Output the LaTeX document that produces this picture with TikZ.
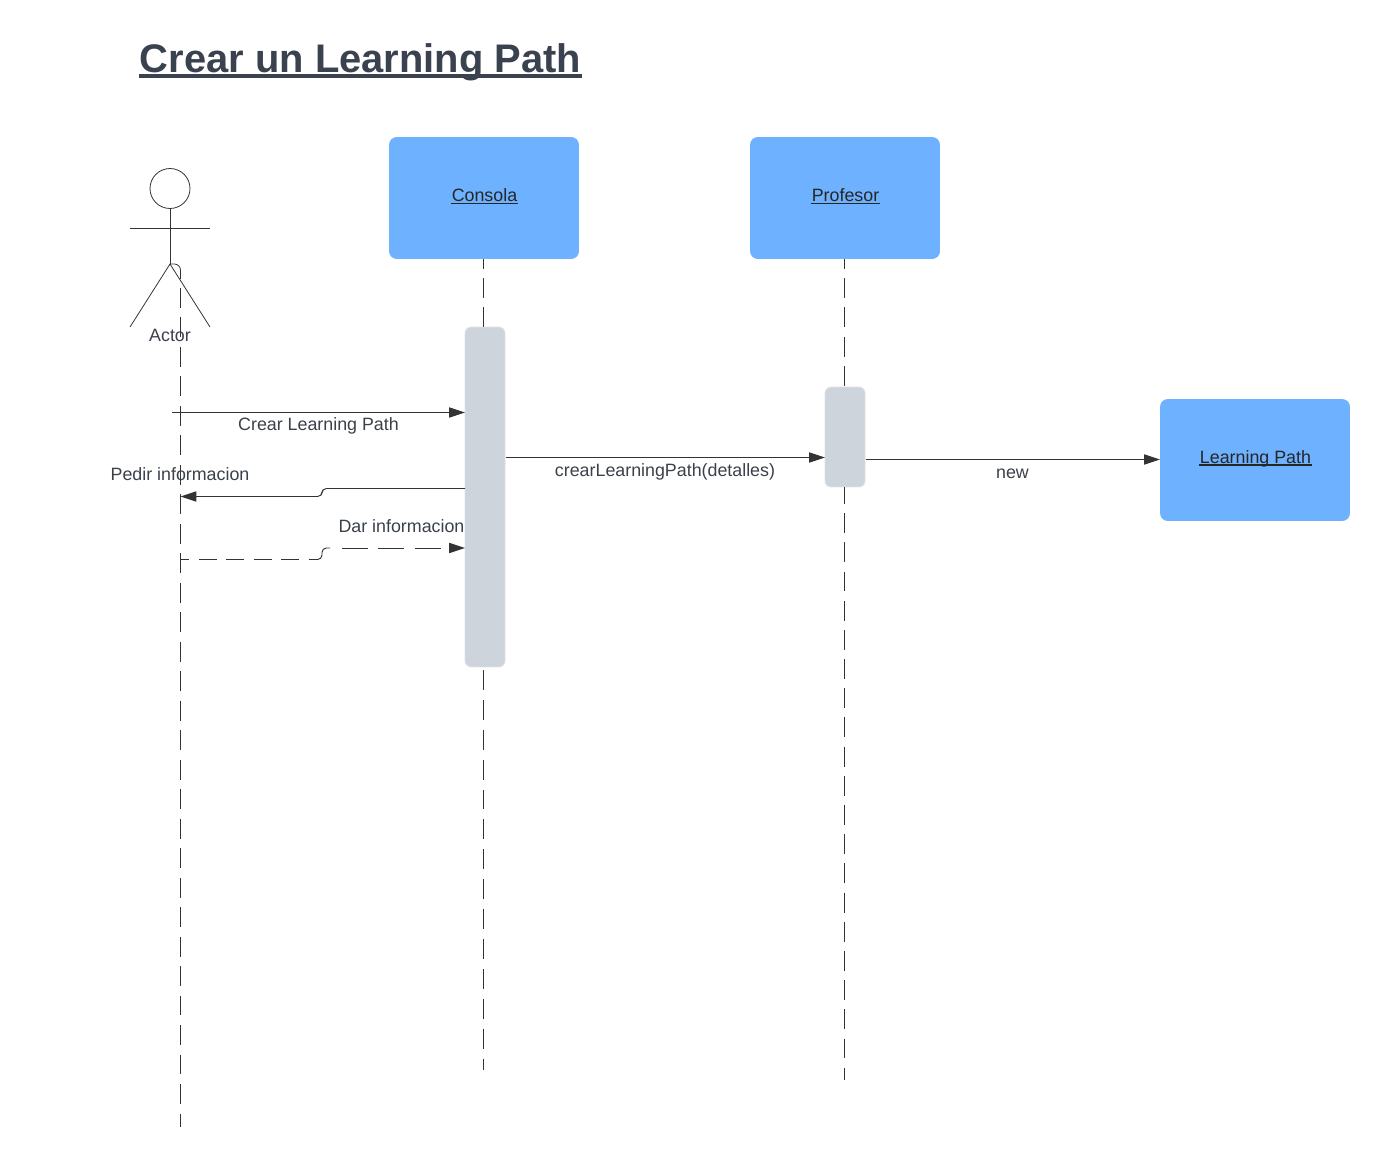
\documentclass[tikz,border=0pt]{standalone}
\usepackage{fontspec}
\setmainfont{Liberation Sans}
\usetikzlibrary{arrows.meta}
\definecolor{boxblue}{RGB}{109, 177, 255}
\definecolor{bargray}{RGB}{206, 212, 219}
\definecolor{barline}{RGB}{222, 226, 231}
\definecolor{inkgray}{RGB}{51, 51, 51}
\definecolor{labelgray}{RGB}{58, 65, 74}
\definecolor{titlegray}{RGB}{58, 65, 79}
\newcommand{\ulined}[3]{\setbox0=\hbox{\kern0.6pt#3\kern0.6pt}\dp0=0pt\vtop{\box0\kern#2\hrule height #1}}

\begin{document}
\begin{tikzpicture}[x=0.02cm, y=-0.02cm,
    every node/.style={font=\fontsize{10.15}{12}\selectfont, text=labelgray},
    lane/.style={rectangle, fill=boxblue, rounded corners=4.5pt, minimum width=3.8cm, minimum height=2.44cm, inner sep=0pt},
    lanetxt/.style={anchor=base, inner sep=0pt, text=black!85},
    bar/.style={rectangle, fill=bargray, draw=barline, line width=0.5pt, rounded corners=3.5pt, minimum width=0.8cm, inner sep=0pt},
    lifeline/.style={draw=inkgray, line width=0.5pt, dash pattern=on 11.34pt off 5.27pt},
    msg/.style={draw=inkgray, line width=0.55pt, -{Triangle[length=9pt, width=5.8pt]}},
    limb/.style={draw=inkgray, line width=0.45pt}]
  \useasboundingbox (0,0) rectangle (1390,1167);

  \node[anchor=base, inner sep=0pt, font=\bfseries\fontsize{22.7}{26}\selectfont, text=titlegray] (title) at (360.5,72) {\ulined{1.9pt}{1.3pt}{Crear un Learning Path}};

  \node[lane] (consola)  at (484,198)  {};
  \node[lane] (profesor) at (845,198)  {};
  \node[lane] (path)     at (1255,460) {};
  \node[lanetxt] (consolatxt)  at (484.5,201.5)  {\ulined{0.85pt}{0.75pt}{Consola}};
  \node[lanetxt] (profesortxt) at (845.5,201.5)  {\ulined{0.85pt}{0.75pt}{Profesor}};
  \node[lanetxt] (pathtxt)     at (1255.5,463)   {\ulined{0.85pt}{0.75pt}{Learning Path}};

  \node[bar, minimum height=6.8cm] (consolabar)  at (485,497) {};
  \node[bar, minimum height=2cm]   (profesorbar) at (845,437) {};

  % Actor
  \node[circle, limb, minimum size=0.8cm, inner sep=0pt] (head) at (170,188.5) {};
  \coordinate (armL) at (130,228);
  \coordinate (armR) at (210,228);
  \coordinate (hip)  at (170,264);
  \coordinate (legL) at (130,327);
  \coordinate (legR) at (210,327);
  \draw[limb] (armL) -- (armR);
  \draw[limb] (head) -- (hip);
  \draw[limb] (legL) -- (hip) -- (legR);
  \node (actor) at (170,335.5) {Actor};

  % Lifelines
  \coordinate (actorjog) at (180.5,264);
  \coordinate (actorend) at (180.5,1127);
  \coordinate (consolaend)  at (483.5,1070);
  \coordinate (profesorend) at (844,1080);
  \draw[limb, rounded corners=3.5pt] (hip) -- (actorjog) -- (180.5,279);
  \draw[lifeline, dash pattern=on 11.34pt off 5.44pt] (180.5,288) -- (actorend);
  \draw[lifeline, dash phase=5.67pt] (483.5,259) -- (483.5,327);
  \draw[lifeline, dash pattern=on 11.34pt off 5.67pt] (483.5,670) -- (consolaend);
  \draw[lifeline, dash phase=5.67pt] (844,259) -- (844,387);
  \draw[lifeline, dash phase=1.7pt] (844,487) -- (profesorend);

  % Messages
  \coordinate (crearstart) at (172,412.5);
  \coordinate (crearend)   at (465,412.5);
  \coordinate (pedirstart) at (465,488.5);
  \coordinate (pedirend)   at (180.5,496.5);
  \coordinate (darstart)   at (180.5,559.5);
  \coordinate (darmidA)    at (316,559.5);
  \coordinate (darmidB)    at (342,548);
  \coordinate (darend)     at (465,548);
  \coordinate (detstart)   at (505.5,457.5);
  \coordinate (detend)     at (825,457.5);
  \coordinate (newstart)   at (865.5,459.5);
  \coordinate (newend)     at (1160,459.5);

  \draw[msg] (crearstart) -- (crearend);
  \draw[msg, rounded corners=2.5pt] (pedirstart) -- (322,488.5) -- (322,496.5) -- (pedirend);
  \draw[draw=inkgray, line width=0.55pt, dash pattern=on 10.2pt off 5.4pt, dash phase=5.1pt] (darstart) -- (darmidA);
  \draw[draw=inkgray, line width=0.55pt, rounded corners=2.5pt] (darmidA) -- (322,559.5) -- (322,548) -- (330,548);
  \draw[msg, dash pattern=on 14.7pt off 6pt] (darmidB) -- (darend);
  \draw[msg] (detstart) -- (detend);
  \draw[msg] (newstart) -- (newend);

  \node (crearlbl) at (318.5,426)  {Crear Learning Path};
  \node (pedirlbl) at (180,474.5)  {Pedir informacion};
  \node (darlbl)   at (401.5,526.5){Dar informacion};
  \node (detlbl)   at (665,471.5)  {crearLearningPath(detalles)};
  \node (newlbl)   at (1012.5,473.5) {new};
\end{tikzpicture}
\end{document}
